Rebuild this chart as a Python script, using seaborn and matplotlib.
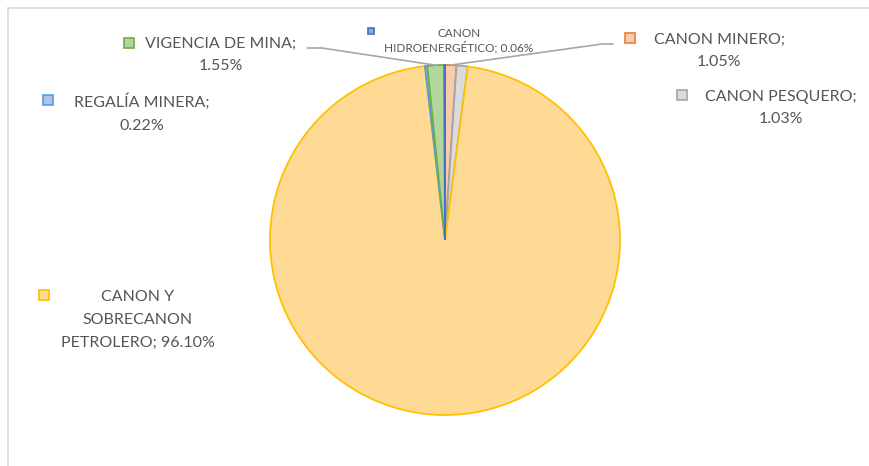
import numpy as np
import matplotlib.pyplot as plt
import seaborn as sns
from matplotlib.patches import Rectangle

# Datos del gráfico
categorias = ['CANON MINERO', 'CANON PESQUERO', 'CANON Y SOBRECANON PETROLERO',
              'REGALÍA MINERA', 'VIGENCIA DE MINA', 'CANON HIDROENERGÉTICO']
porcentajes = [1.05, 1.03, 96.10, 0.22, 1.55, 0.06]

# Texto de cada etiqueta (con saltos de línea como en el original)
formatos = ['CANON MINERO;\n{}', 'CANON PESQUERO;\n{}', 'CANON Y\nSOBRECANON\nPETROLERO; {}',
            'REGALÍA MINERA;\n{}', 'VIGENCIA DE MINA;\n{}', 'CANON\nHIDROENERGÉTICO; {}']

# Colores estilo Excel: relleno claro y borde fuerte
rellenos = ['#F8CBAD', '#DBDBDB', '#FFDA95', '#A9C8EA', '#B2D69B', '#8FAADC']
bordes = ['#ED7D31', '#A5A5A5', '#FFC000', '#5B9BD5', '#70AD47', '#4472C4']

# Posiciones de las etiquetas en píxeles: centro del texto, marcador, tamaño
pos_texto = [(719, 51), (781, 108), (138, 320), (142, 113), (221, 55), (459, 41)]
pos_marca = [(630, 38), (682, 95), (44, 295), (48, 100), (129, 43), (371, 31)]
tam_fuente = [11.5, 11.5, 11.5, 11.5, 11.5, 8.5]
tam_marca = [10, 10, 10, 10, 10, 6]

sns.set_theme(style='white')
plt.rcParams['font.family'] = ['Lato', 'DejaVu Sans']

W, H = 869, 466
fig = plt.figure(figsize=(W / 100, H / 100), dpi=100)

# Ejes del pastel: centro (445, 240), radio 175 px
cx, cy, r = 445, 240, 175
ax = fig.add_axes([(cx - r) / W, (H - cy - r) / H, 2 * r / W, 2 * r / H])
wedges, _ = ax.pie(porcentajes, colors=rellenos, startangle=90, counterclock=False,
                   wedgeprops=dict(linewidth=1.3))
for w, c in zip(wedges, bordes):
    w.set_edgecolor(c)
ax.set_xlim(-1, 1)
ax.set_ylim(-1, 1)
ax.set_aspect('equal')
ax.axis('off')

# Capa superior en coordenadas de píxel para etiquetas y líneas guía
lay = fig.add_axes([0, 0, 1, 1])
lay.set_xlim(0, W)
lay.set_ylim(H, 0)
lay.axis('off')

# Marco del área del gráfico
lay.plot([8, W], [8, 8], color='#D9D9D9', lw=1.2)
lay.plot([8, 8], [8, H], color='#D9D9D9', lw=1.2)

texto_color = '#555555'
for i, nombre in enumerate(categorias):
    etiqueta = formatos[i].format(f'{porcentajes[i]:.2f}%')
    tx, ty = pos_texto[i]
    lay.text(tx, ty, etiqueta, ha='center', va='center', multialignment='center',
             fontsize=tam_fuente[i], color=texto_color,
             linespacing=1.8 if tam_fuente[i] > 10 else 1.15)
    mx, my = pos_marca[i]
    s = tam_marca[i]
    lay.add_patch(Rectangle((mx - s / 2, my - s / 2), s, s, facecolor=rellenos[i],
                            edgecolor=bordes[i], lw=1.2))


def borde_pastel(w):
    ang = np.deg2rad((w.theta1 + w.theta2) / 2)
    p = ax.transData.transform((np.cos(ang), np.sin(ang)))
    return lay.transData.inverted().transform(p)


# Líneas guía para VIGENCIA DE MINA y CANON MINERO
guias = {4: [(307, 48), (322, 48)], 0: [(613, 44), (602, 44)]}
for i, puntos in guias.items():
    ex, ey = borde_pastel(wedges[i])
    xs = [p[0] for p in puntos] + [ex]
    ys = [p[1] for p in puntos] + [ey]
    lay.plot(xs, ys, color='#A6A6A6', lw=1.2)

fig.savefig('out.png', dpi=100)
